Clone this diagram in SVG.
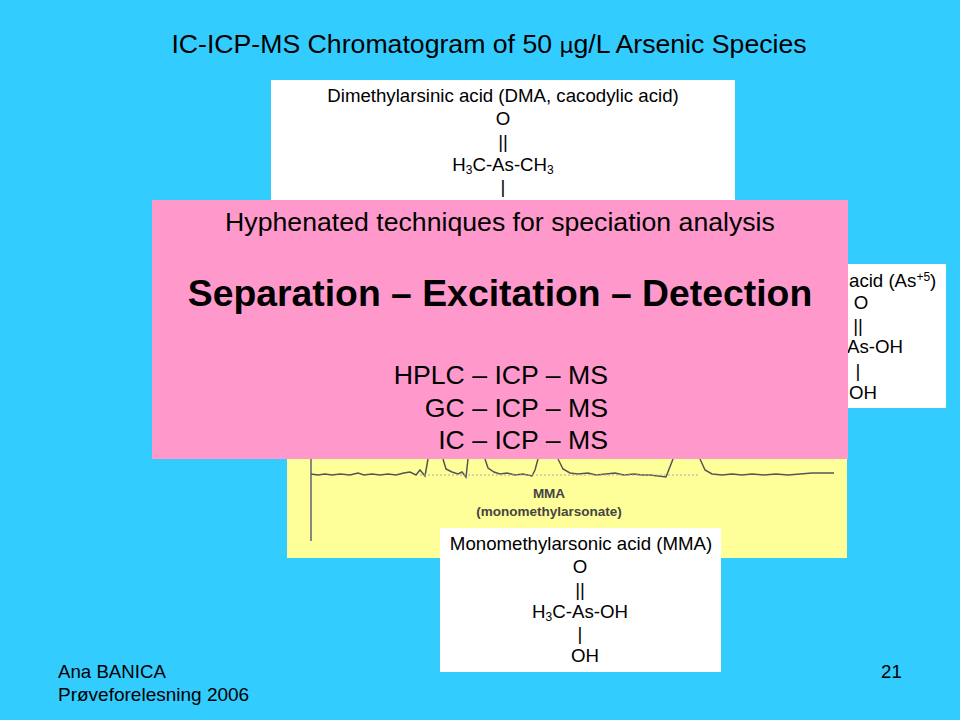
<svg xmlns="http://www.w3.org/2000/svg" width="960" height="720" viewBox="0 0 960 720">
<style>
text{font-family:"Liberation Sans",Arial,sans-serif;fill:#000}
.s{font-size:18.67px;text-anchor:middle}
.l{font-size:18.67px}
.b{fill:#fff}
.h{font-size:26.67px;text-anchor:middle}
.r{font-size:26.67px;text-anchor:end}
.sub{font-size:12px}
.m{font-size:13.5px;text-anchor:middle;font-weight:bold;fill:#444}
</style>
<rect width="960" height="720" fill="#33ccff"/>
<text x="489" y="53" font-size="26.67" text-anchor="middle">IC-ICP-MS Chromatogram of 50 <tspan font-family="'DejaVu Sans',sans-serif" font-size="22">μ</tspan>g/L Arsenic Species</text>
<g id="chromatogram">
<rect x="287" y="440" width="560" height="118" fill="#ffff99"/>
<path d="M311 459V541" fill="none" stroke="#888" stroke-width="2"/>
<path d="M311 474L318 475L325 474L332 475L340 474L350 475L358 473L364 475L372 474L380 475L388 474L396 475L404 473L410 472L416 475L420 470L425 476L428 459M443 459L446 469L452 472L458 474L462 472L466 477L468 459M485 459L488 468L494 472L500 474L507 473L515 475L523 474L532 476L535 470L538 459M558 459L563 469L570 473L578 474L588 473L596 475L606 474L615 473L624 475L634 474L642 475L650 475L666 477L673 459M700 459L705 470L712 474L722 475L732 474L742 475L752 474L764 475L776 474L788 475L800 474L812 473L834 473" fill="none" stroke="#555" stroke-width="1.5"/>
<path d="M420 475H700" fill="none" stroke="#aaa" stroke-width="1" stroke-dasharray="2 2"/>
<text class="m" x="549" y="498">MMA</text>
<text class="m" x="549" y="516">(monomethylarsonate)</text>
</g>
<g id="dma">
<rect class="b" x="271" y="80" width="464" height="125"/>
<text class="s" x="503" y="102">Dimethylarsinic acid (DMA, cacodylic acid)</text>
<text class="s" x="503" y="125">O</text>
<text class="s" x="503" y="148">||</text>
<text class="s" x="503" y="171">H<tspan class="sub" dy="3">3</tspan><tspan dy="-3">C-As-CH</tspan><tspan class="sub" dy="3">3</tspan></text>
<text class="s" x="503" y="193">|</text>
</g>
<g id="arsenate">
<rect class="b" x="780" y="264" width="166" height="144"/>
<text class="l" x="849" y="287">acid (As<tspan class="sub" dy="-6">+5</tspan><tspan dy="6">)</tspan></text>
<text class="s" x="861" y="309">O</text>
<text class="s" x="858" y="332">||</text>
<text class="l" x="847" y="353">As-OH</text>
<text class="s" x="858" y="377">|</text>
<text class="l" x="849" y="399">OH</text>
</g>
<g id="mma">
<rect class="b" x="440" y="528" width="281" height="144"/>
<text class="s" x="581" y="550">Monomethylarsonic acid (MMA)</text>
<text class="s" x="580" y="573">O</text>
<text class="s" x="580" y="596">||</text>
<text class="s" x="580" y="618">H<tspan class="sub" dy="3">3</tspan><tspan dy="-3">C-As-OH</tspan></text>
<text class="s" x="580" y="640">|</text>
<text class="s" x="585" y="662">OH</text>
</g>
<g id="overlay">
<rect x="152" y="200" width="696" height="259" fill="#ff99cc"/>
<text class="h" x="500" y="231">Hyphenated techniques for speciation analysis</text>
<text x="500" y="306" font-size="37.33" font-weight="bold" text-anchor="middle">Separation – Excitation – Detection</text>
<text class="r" x="608" y="384">HPLC – ICP – MS</text>
<text class="r" x="608" y="417">GC – ICP – MS</text>
<text class="r" x="608" y="449">IC – ICP – MS</text>
</g>
<g id="footer">
<text x="58" y="678" font-size="18.67">Ana BANICA</text>
<text x="58" y="701" font-size="19">Prøveforelesning 2006</text>
<text x="881" y="678" font-size="18.67">21</text>
</g>
</svg>
